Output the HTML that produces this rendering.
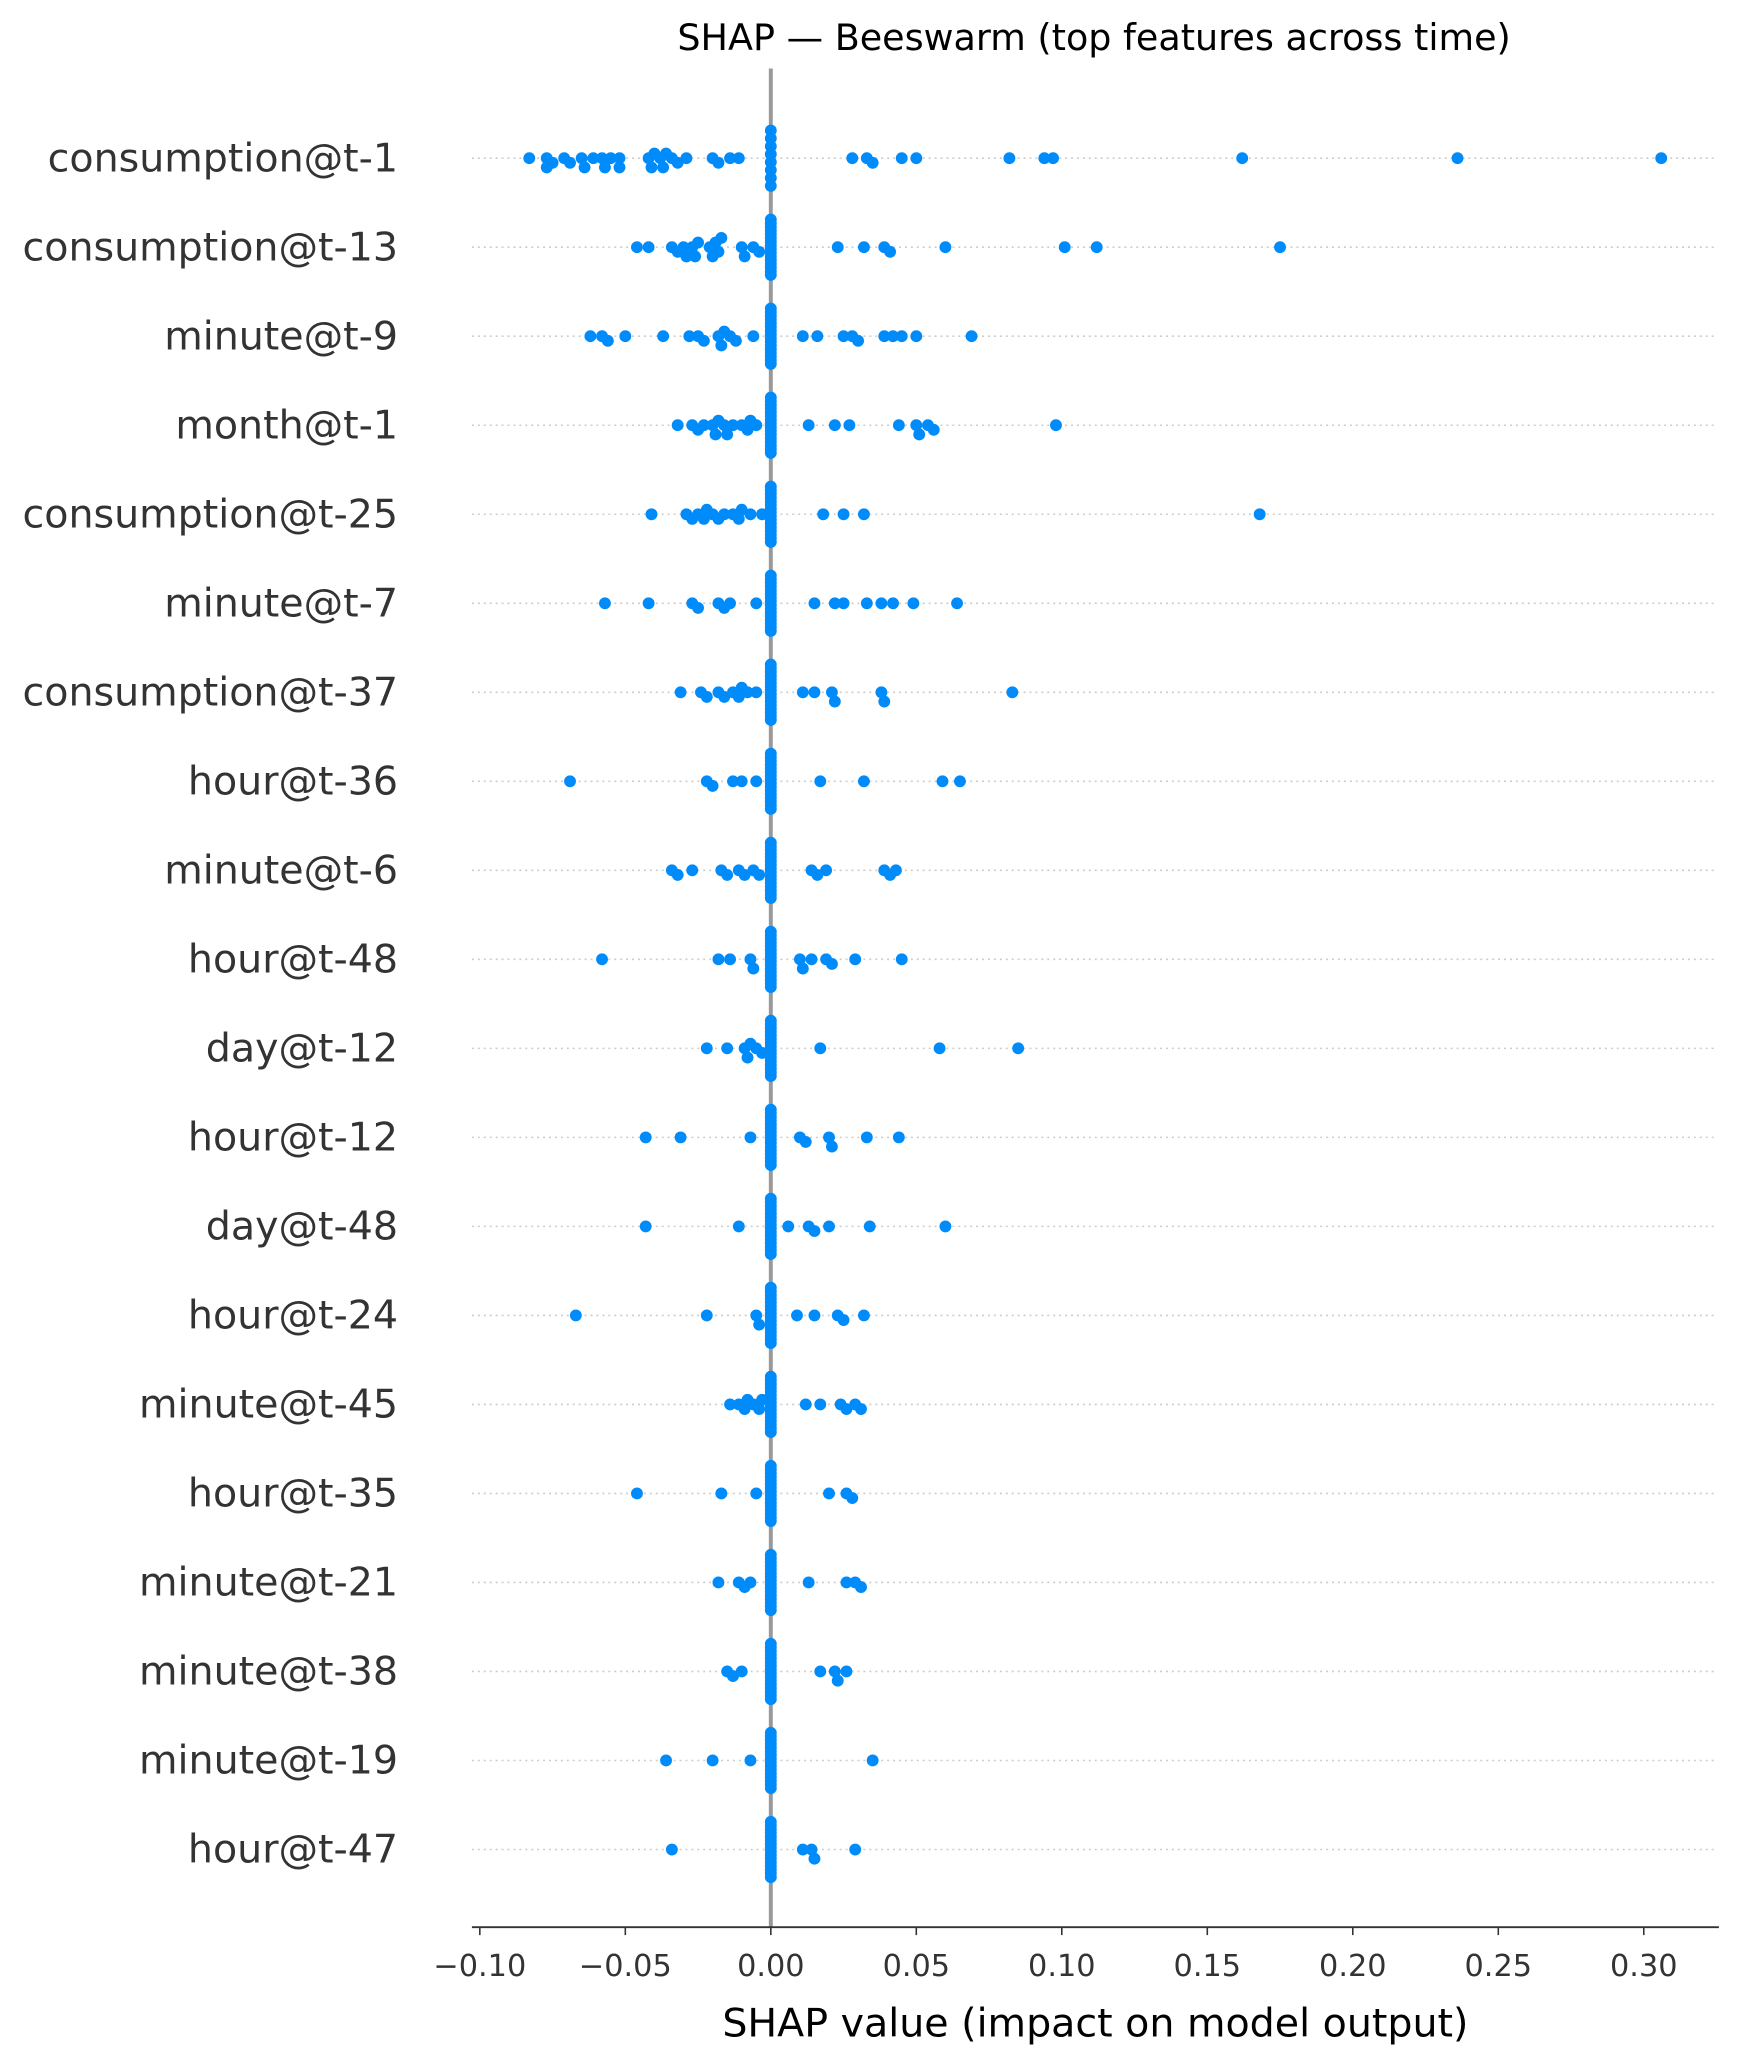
<!DOCTYPE html>
<html><head><meta charset="utf-8"><style>
html,body{margin:0;padding:0;background:#fff;}
svg{display:block;font-family:"DejaVu Sans","Liberation Sans",sans-serif;}
</style></head><body>
<svg id="chart" width="1740" height="2066" viewBox="0 0 1320 1567.3" xmlns="http://www.w3.org/2000/svg">
<text x="830" y="38" text-anchor="middle" font-size="27.7" fill="#000">SHAP — Beeswarm (top features across time)</text>
<g id="grid"></g><g id="zero"></g><g id="dots"></g><g id="ylabels"></g><g id="xaxis"></g>
<text x="831" y="1545" text-anchor="middle" font-size="30" fill="#000">SHAP value (impact on model output)</text>
</svg>
<script>
const features = ["consumption@t-1","consumption@t-13","minute@t-9","month@t-1","consumption@t-25","minute@t-7","consumption@t-37","hour@t-36","minute@t-6","hour@t-48","day@t-12","hour@t-12","day@t-48","hour@t-24","minute@t-45","hour@t-35","minute@t-21","minute@t-38","minute@t-19","hour@t-47"];
const zeroCounts = [8,16,16,16,16,16,16,16,16,16,16,16,16,16,16,16,16,16,16,16];
const shapValues = [
[-0.083,-0.077,-0.077,-0.075,-0.071,-0.069,-0.065,-0.064,-0.061,-0.058,-0.057,-0.055,-0.052,-0.052,-0.042,-0.041,-0.040,-0.038,-0.037,-0.036,-0.034,-0.032,-0.029,-0.020,-0.018,-0.014,-0.011,0.028,0.033,0.035,0.045,0.050,0.082,0.094,0.097,0.162,0.236,0.306],
[-0.046,-0.042,-0.034,-0.032,-0.030,-0.029,-0.027,-0.026,-0.025,-0.021,-0.020,-0.019,-0.018,-0.017,-0.010,-0.009,-0.006,-0.004,0.023,0.032,0.039,0.041,0.060,0.101,0.112,0.175],
[-0.062,-0.058,-0.056,-0.050,-0.037,-0.028,-0.025,-0.023,-0.018,-0.017,-0.016,-0.014,-0.012,-0.006,0.011,0.016,0.025,0.028,0.030,0.039,0.042,0.045,0.050,0.069],
[-0.032,-0.027,-0.025,-0.023,-0.020,-0.019,-0.018,-0.016,-0.015,-0.013,-0.010,-0.008,-0.007,-0.005,0.013,0.022,0.027,0.044,0.050,0.051,0.054,0.056,0.098],
[-0.041,-0.029,-0.027,-0.025,-0.023,-0.022,-0.020,-0.018,-0.016,-0.013,-0.011,-0.010,-0.007,-0.003,0.018,0.025,0.032,0.168],
[-0.057,-0.042,-0.027,-0.025,-0.018,-0.016,-0.014,-0.005,0.015,0.022,0.025,0.033,0.038,0.042,0.049,0.064],
[-0.031,-0.024,-0.022,-0.018,-0.016,-0.013,-0.011,-0.010,-0.008,-0.005,0.011,0.015,0.021,0.022,0.038,0.039,0.083],
[-0.069,-0.022,-0.020,-0.013,-0.010,-0.005,0.017,0.032,0.059,0.065],
[-0.034,-0.032,-0.027,-0.017,-0.015,-0.011,-0.009,-0.006,-0.004,0.014,0.016,0.019,0.039,0.041,0.043],
[-0.058,-0.018,-0.014,-0.007,-0.006,0.010,0.011,0.014,0.019,0.021,0.029,0.045],
[-0.022,-0.015,-0.009,-0.008,-0.007,-0.005,-0.003,0.017,0.058,0.085],
[-0.043,-0.031,-0.007,0.010,0.012,0.020,0.021,0.033,0.044],
[-0.043,-0.011,0.006,0.013,0.015,0.020,0.034,0.060],
[-0.067,-0.022,-0.005,-0.004,0.009,0.015,0.023,0.025,0.032],
[-0.014,-0.011,-0.009,-0.008,-0.006,-0.004,-0.003,0.012,0.017,0.024,0.026,0.029,0.031],
[-0.046,-0.017,-0.005,0.020,0.026,0.028],
[-0.018,-0.011,-0.009,-0.007,0.013,0.026,0.029,0.031],
[-0.015,-0.013,-0.010,0.017,0.022,0.023,0.026],
[-0.036,-0.020,-0.007,0.035],
[-0.034,0.011,0.014,0.015,0.029]
];
const xTicks = [-0.10,-0.05,0.00,0.05,0.10,0.15,0.20,0.25,0.30];
const xTickLabels = ["\u22120.10","\u22120.05","0.00","0.05","0.10","0.15","0.20","0.25","0.30"];

const NS="http://www.w3.org/2000/svg";
const X0=358,X1=1304,AXY=1462;
const xs=v=>584.75+v*2207.5;
const ys=i=>120+i*67.53;
function mk(tag,attrs,parent){const e=document.createElementNS(NS,tag);for(const k in attrs)e.setAttribute(k,attrs[k]);parent.appendChild(e);return e;}
const grid=document.getElementById('grid'),dots=document.getElementById('dots'),yl=document.getElementById('ylabels'),xa=document.getElementById('xaxis'),zg=document.getElementById('zero');
features.forEach((f,i)=>{
  const y=ys(i);
  const g=mk('line',{x1:X0,x2:1300,y1:y,y2:y,stroke:'#ccc','stroke-width':1.2,'stroke-dasharray':'1.5,3'},grid);
  
  
  const t=mk('text',{x:302,y:y+10,'text-anchor':'end','font-size':30,fill:'#333'},yl);
  t.textContent=f;
  
  
  const n=zeroCounts[i];
  for(let k=0;k<n;k++){
    const off=n>1?-21+42*k/(n-1):0;
    const c=mk('circle',{cx:xs(0),cy:y+off,r:4.5,fill:'#008bfb'},dots);
    
    
  }
  const placed=[];
  const vals=shapValues[i].filter(v=>v!==0).slice().sort((a,b)=>a-b);
  vals.forEach(v=>{
    const cx=xs(v);let best=0;
    const cands=[0];for(let s=1;s<=5;s++){cands.push(s*3.5,-s*3.5);}
    for(const o of cands){
      if(placed.every(p=>Math.hypot(p[0]-cx,p[1]-o)>=5.5)){best=o;break;}
      best=o;
    }
    placed.push([cx,best]);
    const c=mk('circle',{cx:cx,cy:y+best,r:4.5,fill:'#008bfb'},dots);
    
    
  });
});
const zl=mk('line',{x1:xs(0),x2:xs(0),y1:52,y2:AXY,stroke:'#999','stroke-width':3},zg);


const al=mk('line',{x1:X0,x2:X1,y1:AXY,y2:AXY,stroke:'#333','stroke-width':1.5},xa);


xTicks.forEach((v,k)=>{
  const tk=mk('line',{x1:xs(v),x2:xs(v),y1:AXY,y2:AXY+6,stroke:'#333','stroke-width':1.2},xa);
  
  
  const t=mk('text',{x:xs(v),y:AXY+37,'text-anchor':'middle','font-size':23,fill:'#333'},xa);
  t.textContent=xTickLabels[k];
  
  
});
</script>
</body></html>
